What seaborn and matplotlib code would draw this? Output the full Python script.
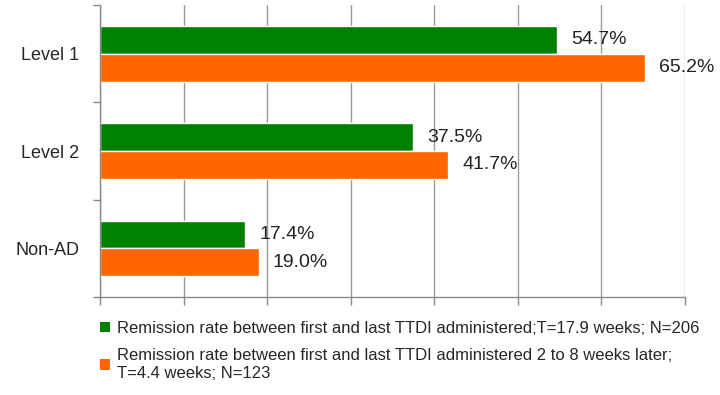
import pandas as pd
import seaborn as sns
import matplotlib.pyplot as plt
from matplotlib.patches import Patch

categories = ["Level 1", "Level 2", "Non-AD"]
series_names = [
    "Remission rate between first and last TTDI administered;T=17.9 weeks; N=206",
    "Remission rate between first and last TTDI administered 2 to 8 weeks later;\nT=4.4 weeks; N=123",
]
green_vals = [54.7, 37.5, 17.4]
orange_vals = [65.2, 41.7, 19.0]
colors = ["#008000", "#ff6600"]

df = pd.DataFrame({
    "group": categories * 2,
    "series": [series_names[0]] * 3 + [series_names[1]] * 3,
    "rate": green_vals + orange_vals,
})

sns.set_style("white")
plt.rcParams["font.family"] = ["Liberation Sans", "DejaVu Sans"]

fig = plt.figure(figsize=(7.2, 3.95), dpi=100)
ax = fig.add_axes([0.139, 0.248, 0.812, 0.739])

sns.barplot(data=df, y="group", x="rate", hue="series", orient="h",
            palette=colors, width=0.57, ax=ax, legend=False, saturation=1)

for cont in ax.containers:
    ax.bar_label(cont, labels=[f"{v:.1f}%" for v in cont.datavalues],
                 padding=10, fontsize=14, color="#222222")

ax.set_xlim(0, 70)
ax.set_ylim(2.5, -0.5)
ax.set_xticks(range(0, 71, 10))
ax.set_xticklabels([])
ax.set_yticks(range(len(categories)))
ax.set_yticklabels(categories, fontsize=13)
ax.set_yticks([-0.5, 0.5, 1.5, 2.5], minor=True)
ax.tick_params(axis="y", which="major", left=False, length=0, pad=15)
ax.tick_params(axis="y", which="minor", left=True, length=5, width=1,
               color="#888888", direction="out")
ax.tick_params(axis="x", bottom=True, length=6, width=1, color="#888888", direction="out")
ax.xaxis.grid(True, color="#9a9a9a", linewidth=1)
ax.set_axisbelow(True)
ax.set_xlabel("")
ax.set_ylabel("")
for s in ["top", "right"]:
    ax.spines[s].set_visible(False)
for s in ["left", "bottom"]:
    ax.spines[s].set_color("#888888")
    ax.spines[s].set_linewidth(1)

handles = [Patch(facecolor=c, edgecolor="none") for c in colors]
fig.legend(handles, series_names, loc="upper left", bbox_to_anchor=(0.13, 0.205),
           frameon=False, fontsize=12, handlelength=0.6, handleheight=0.6,
           handletextpad=0.4, labelspacing=0.75, borderaxespad=0)

fig.savefig("out.png", dpi=100)
